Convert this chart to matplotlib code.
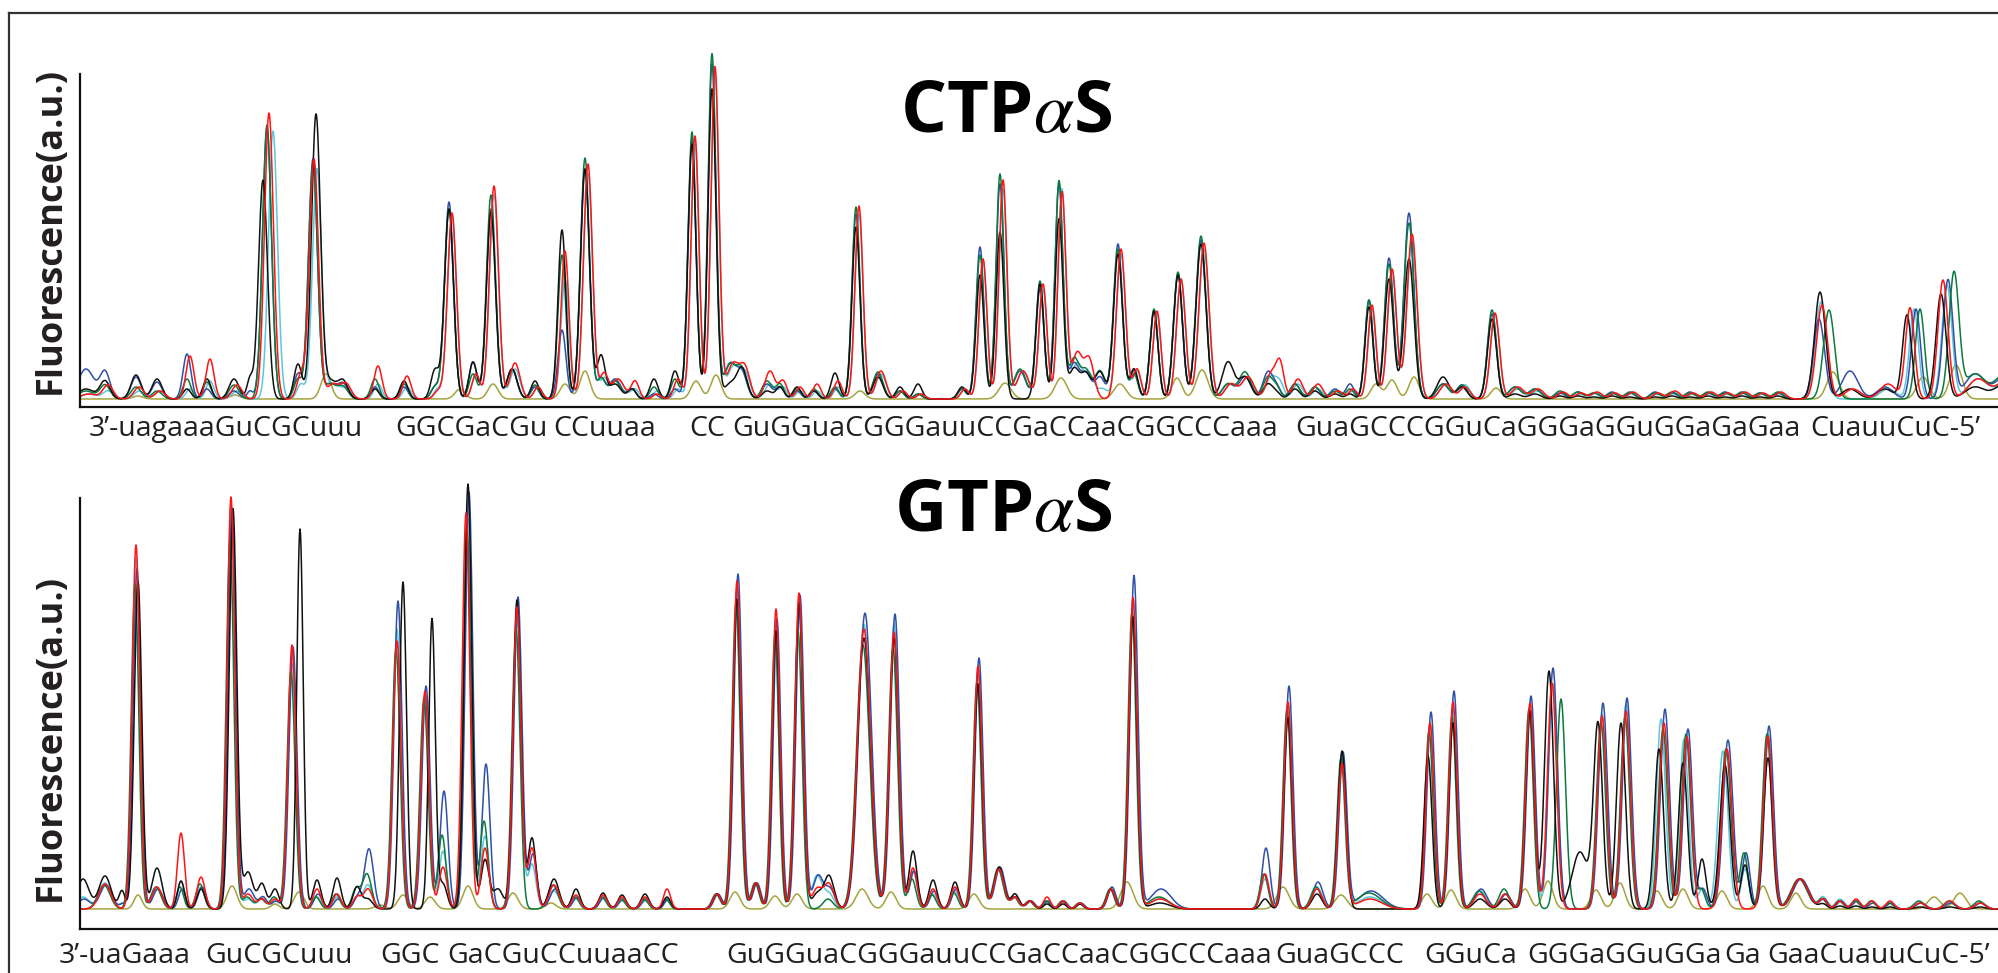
import numpy as np
import matplotlib
matplotlib.use("Agg")
import matplotlib.pyplot as plt
from matplotlib.lines import Line2D

# trace order: black, red, blue, cyan, green
trace_names = ["black", "red", "blue", "cyan", "green"]
trace_colors = {"black": "#111111", "red": "#ff1414", "blue": "#2f4fa8",
                "cyan": "#5cc6dc", "green": "#0b7a3e"}
olive_color = "#a4a33c"

# ---- CTPaS panel: peak centre, width, heights (black, red, blue, cyan, green)
ctp_peaks = [
    (86, 8, 10, 5, 30, 5, 8), (105, 5, 18, 14, 27, 8, 14), (136, 5, 24, 12, 22, 8, 12),
    (157, 5, 20, 8, 17, 8, 8), (187, 4, 10, 43, 45, 10, 20), (207, 4, 20, 40, 10, 18, 17),
    (234, 5, 20, 14, 8, 8, 14), (250, 3, 20, 0, 8, 0, 0),
    (267, 4.5, 219, 286, 270, 268, 274), (298, 4, 35, 25, 25, 15, 20),
    (314, 4.5, 284, 240, 240, 230, 235), (330, 6, 18, 15, 15, 15, 15),
    (343, 5, 18, 15, 15, 10, 12), (375, 4, 10, 33, 12, 15, 20), (404, 4, 18, 23, 12, 12, 15),
    (435, 4, 29, 8, 12, 10, 12), (449, 4.5, 190, 186, 197, 182, 190),
    (473, 4, 37, 25, 37, 25, 25), (491, 4.5, 187, 213, 190, 204, 204),
    (512, 5, 30, 36, 30, 30, 30), (535, 4, 18, 12, 12, 12, 14),
    (562, 4, 169, 148, 69, 120, 144), (585, 4.5, 230, 235, 230, 225, 241),
    (601, 4, 43, 25, 20, 20, 20), (615, 6, 15, 20, 20, 20, 18), (632, 4, 10, 18, 10, 10, 10),
    (654, 4, 20, 5, 5, 8, 12), (675, 4, 28, 20, 10, 10, 20),
    (692, 4, 255, 263, 260, 255, 267), (712, 4, 310, 332, 335, 325, 345),
    (730, 6, 15, 35, 35, 32, 34), (742, 5, 30, 30, 25, 25, 28), (767, 5, 8, 28, 15, 15, 18),
    (780, 4, 12, 18, 12, 12, 15), (797, 4, 12, 12, 8, 8, 10), (814, 4, 8, 15, 8, 8, 10),
    (835, 4, 26, 18, 10, 12, 12), (856, 4, 172, 193, 185, 185, 192),
    (878, 5, 22, 28, 25, 25, 27), (900, 4, 12, 8, 8, 8, 8), (918, 4, 15, 5, 5, 5, 5),
    (962, 4, 12, 10, 10, 10, 10), (980, 4, 124, 140, 152, 140, 144),
    (1000, 4, 167, 219, 215, 210, 225), (1020, 6, 0, 28, 28, 28, 30),
    (1040, 4, 115, 115, 110, 110, 118), (1059, 4, 180, 207, 215, 210, 218),
    (1074, 5, 30, 45, 35, 35, 40), (1086, 5, 25, 40, 25, 25, 28), (1100, 5, 27, 0, 22, 10, 28),
    (1118, 4.5, 145, 150, 155, 145, 150), (1134, 4, 30, 30, 28, 28, 25),
    (1154, 4, 88, 88, 88, 85, 90), (1178, 4.5, 124, 120, 125, 120, 127),
    (1201, 5, 155, 156, 159, 150, 163), (1228, 6, 37, 15, 15, 15, 15),
    (1245, 6, 22, 22, 22, 22, 27), (1268, 5, 15, 25, 27, 22, 22), (1277, 4, 5, 35, 10, 15, 10),
    (1295, 5, 10, 20, 15, 15, 15), (1315, 5, 8, 15, 12, 10, 12), (1335, 5, 5, 8, 10, 8, 8),
    (1350, 4, 5, 10, 15, 8, 10), (1369, 4, 92, 94, 99, 90, 99),
    (1389, 4.5, 120, 130, 141, 130, 135), (1409, 5, 140, 165, 186, 157, 176),
    (1443, 6, 22, 15, 15, 15, 15), (1462, 5, 12, 12, 14, 14, 14),
    (1492, 4.5, 80, 86, 85, 85, 89), (1515, 6, 5, 12, 12, 10, 12), (1535, 6, 5, 10, 10, 8, 10),
    (1560, 5, 3, 7, 6, 6, 8), (1578, 5, 3, 6, 7, 5, 7), (1594, 5, 2, 7, 6, 6, 6),
    (1612, 5, 3, 6, 7, 5, 6), (1630, 5, 2, 7, 6, 6, 7), (1655, 5, 2, 6, 7, 5, 6),
    (1672, 5, 3, 8, 6, 6, 7), (1690, 5, 2, 6, 7, 5, 6), (1708, 5, 3, 7, 6, 6, 7),
    (1725, 5, 2, 6, 7, 5, 6), (1742, 5, 3, 7, 6, 6, 7), (1760, 5, 2, 6, 6, 5, 6),
    (1778, 5, 3, 7, 6, 6, 7), (1820, 5.5, 107, 94, 80, 97, 89),
    (1850, 8, 10, 10, 28, 0, 0), (1885, 8, 10, 15, 12, 10, 0),
    (1907, 4.5, 84, 91, 90, 90, 90), (1941, 5, 105, 119, 119, 114, 125),
    (1975, 10, 12, 20, 25, 20, 25), (2005, 10, 15, 20, 22, 18, 25),
]
ctp_shift = (0, 3, 0, 3, 0)
ctp_shift_special = {267: (-4, 2, 0, 6, 0), 314: (2, 0, -1, 3, -1),
                     1820: (0, 2, -1, 1, 9), 1907: (0, 3, 9, 7, 13),
                     1941: (0, 2, 7, 6, 13)}
ctp_olive = [(138, 5, 3), (235, 5, 4), (326, 5, 25), (460, 5, 10), (493, 5, 15),
             (565, 5, 15), (585, 5, 28), (696, 5, 18), (716, 5, 24), (860, 5, 8),
             (1005, 6, 16), (1061, 6, 21), (1120, 6, 15), (1177, 5, 21), (1202, 6, 29),
             (1376, 5, 15), (1392, 5, 19), (1414, 5, 22), (1496, 5, 11), (1833, 6, 27),
             (1923, 6, 22), (1956, 6, 34)]

# ---- GTPaS panel
gtp_peaks = [
    (83, 6, 30, 0, 10, 12, 0), (105, 6, 33, 25, 24, 26, 24), (122, 3, 18, 0, 5, 5, 0),
    (136, 3.8, 328, 364, 340, 350, 324), (157, 5, 41, 22, 20, 20, 22),
    (181, 3.5, 28, 76, 20, 28, 22), (201, 4, 20, 32, 22, 22, 25),
    (231, 3.8, 400, 412, 400, 405, 369), (248, 5, 37, 15, 20, 10, 12),
    (262, 4, 25, 10, 12, 10, 10), (275, 4, 20, 10, 8, 8, 12),
    (292, 4, 0, 264, 262, 245, 238), (300, 3.2, 380, 0, 0, 0, 0),
    (317, 4, 29, 20, 15, 12, 12), (337, 4, 31, 15, 10, 12, 15), (357, 4, 22, 12, 12, 12, 20),
    (368, 4.5, 10, 20, 60, 24, 35), (397, 4, 0, 268, 308, 280, 260), (403, 3.5, 327, 0, 0, 0, 0),
    (425, 4, 0, 218, 223, 215, 211), (432, 3.3, 290, 0, 0, 0, 0),
    (443, 4, 25, 42, 118, 58, 74), (468, 3.8, 425, 396, 417, 390, 380),
    (485, 4, 49, 61, 145, 73, 88), (498, 5, 20, 0, 0, 0, 0),
    (517, 4, 309, 302, 312, 290, 280), (532, 4, 71, 61, 55, 45, 0),
    (554, 5, 30, 24, 20, 18, 24), (576, 4, 20, 14, 12, 10, 12), (603, 4, 16, 14, 12, 10, 12),
    (622, 4, 14, 12, 10, 8, 10), (645, 4, 15, 12, 10, 8, 10), (667, 3.5, 12, 20, 10, 8, 10),
    (717, 4, 15, 15, 15, 15, 15), (737, 4, 310, 328, 335, 320, 306),
    (756, 4, 26, 26, 26, 26, 26), (776, 3.8, 278, 300, 290, 290, 274),
    (799, 4, 306, 316, 314, 300, 278), (817, 5, 15, 20, 33, 33, 0), (829, 5, 33, 25, 20, 15, 10),
    (864, 6.5, 271, 280, 296, 285, 264), (894, 4.5, 271, 277, 295, 285, 260),
    (913, 4, 58, 41, 38, 38, 30), (933, 4, 29, 20, 18, 15, 14), (955, 4, 27, 22, 20, 18, 16),
    (978, 4, 225, 243, 251, 235, 227), (999, 5, 42, 40, 42, 40, 40),
    (1015, 4, 15, 12, 12, 12, 12), (1030, 4, 8, 8, 8, 8, 8), (1047, 3.5, 5, 12, 8, 8, 8),
    (1063, 3.5, 5, 8, 8, 8, 8), (1080, 3.5, 5, 6, 6, 6, 6), (1111, 4, 20, 20, 22, 20, 20),
    (1133, 4, 292, 311, 333, 310, 297), (1160, 10, 6, 10, 20, 10, 12),
    (1265, 4, 10, 35, 61, 30, 35), (1288, 4, 191, 207, 223, 205, 200),
    (1317, 5, 15, 20, 27, 22, 22), (1342, 4, 158, 145, 156, 150, 150),
    (1370, 12, 0, 10, 18, 12, 16), (1430, 4, 153, 186, 197, 185, 178),
    (1453, 4, 186, 207, 218, 200, 193), (1480, 6, 10, 15, 20, 18, 18),
    (1505, 5, 10, 15, 15, 15, 20), (1530, 4.2, 198, 206, 213, 195, 200),
    (1552, 4.5, 238, 226, 241, 225, 210), (1580, 8, 57, 0, 0, 0, 0),
    (1602, 4.5, 183, 193, 206, 195, 186), (1626, 4.5, 186, 198, 211, 205, 192),
    (1664, 4.5, 160, 186, 200, 190, 180), (1687, 4.5, 146, 172, 180, 170, 175),
    (1702, 4, 50, 0, 20, 20, 20), (1727, 5, 144, 160, 169, 158, 160),
    (1745, 4, 44, 0, 56, 40, 56), (1768, 4.5, 151, 173, 183, 175, 175),
    (1800, 8, 30, 30, 30, 30, 30), (1823, 4, 5, 10, 10, 12, 10), (1840, 4, 3, 8, 8, 10, 8),
    (1856, 4, 3, 10, 8, 8, 8), (1872, 4, 2, 8, 6, 8, 8), (1890, 4, 2, 8, 6, 6, 6),
    (1920, 5, 2, 6, 6, 6, 8), (1950, 5, 2, 8, 6, 6, 8), (1980, 5, 2, 6, 6, 6, 8),
]
gtp_shift = (0, 0, 1, 0, -1)
gtp_shift_special = {136: (2, 0, 1, 0, -1), 231: (2, 0, 1, 0, -1), 468: (0, -2, 1, 0, -1),
                     1430: (-2, 0, 1, 0, -1), 1552: (-3, 0, 1, 1, 9),
                     1602: (-4, 0, 1, 0, -1), 1626: (-5, 0, 1, 0, -1),
                     1664: (-5, 0, 1, -3, -1), 1687: (-4, 0, 1, -3, -1),
                     1727: (-2, 0, 1, -4, -1)}
gtp_olive = [(138, 4, 14), (232, 5, 23), (275, 4, 5), (299, 5, 17), (380, 5, 4),
             (403, 5, 14), (430, 5, 12), (468, 5, 23), (513, 5, 16), (551, 5, 6),
             (735, 5, 17), (775, 5, 13), (797, 5, 15), (862, 6, 20), (891, 5, 17),
             (974, 5, 15), (1127, 6, 27), (1283, 6, 22), (1341, 6, 14), (1427, 5, 15),
             (1451, 5, 19), (1525, 5, 20), (1548, 5, 28), (1596, 5, 19), (1620, 5, 26),
             (1657, 5, 18), (1683, 5, 20), (1722, 5, 18), (1763, 5, 23), (1796, 5, 16),
             (1934, 6, 12), (1960, 6, 16)]

top_labels = [("3’-uagaaaGuCGCuuu", 89), ("GGCGaCGu", 395), ("CCuuaa", 553), ("CC", 689),
              ("GuGGuaCGGGauuCCGaCCaaCGGCCCaaa", 732),
              ("GuaGCCCGGuCaGGGaGGuGGaGaGaa", 1295), ("CuauuCuC-5’", 1810)]
bottom_labels = [("3’-uaGaaa", 59), ("GuCGCuuu", 205), ("GGC", 380), ("GaCGuCCuuaaCC", 447),
                 ("GuGGuaCGGGauuCCGaCCaaCGGCCCaaa", 726), ("GuaGCCC", 1275),
                 ("GGuCa", 1424), ("GGGaGGuGGa", 1527), ("Ga", 1724),
                 ("GaaCuauuCuC-5’", 1767)]

W, H = 1999, 973
xs = np.arange(80, 2000, 0.5)


def gauss_sum(peaks, col, base, shift, special):
    y = np.full_like(xs, base, dtype=float)
    for row in peaks:
        x0, w, h = row[0], row[1], row[2 + col]
        dx = special.get(x0, shift)[col]
        y += h * np.exp(-0.5 * ((xs - x0 - dx) / w) ** 2)
    return y


def olive_line(peaks, base):
    y = np.full_like(xs, base, dtype=float)
    for x0, w, h in peaks:
        y += h * np.exp(-0.5 * ((xs - x0) / w) ** 2)
    return y


def draw_panel(ax, peaks, shift, special, olive, base, ytop, spine_top):
    ax.plot(xs, olive_line(olive, base), color=olive_color, lw=1.1)
    for name in ["cyan", "blue", "green", "black", "red"]:
        i = trace_names.index(name)
        ax.plot(xs, gauss_sum(peaks, i, base, shift, special), color=trace_colors[name], lw=1.1)
    ax.set_xlim(80, 1999)
    ax.set_ylim(0, ytop)
    for s in ["top", "right"]:
        ax.spines[s].set_visible(False)
    ax.spines["left"].set_bounds(0, spine_top)
    for s in ["left", "bottom"]:
        ax.spines[s].set_linewidth(1.6)
        ax.spines[s].set_color("#111111")
    ax.set_xticks([])
    ax.set_yticks([])
    ax.patch.set_alpha(0)


fig = plt.figure(figsize=(W / 100, H / 100), dpi=100)
ax1 = fig.add_axes([80 / W, (H - 407) / H, 1 - 80 / W, 367 / H])
ax2 = fig.add_axes([80 / W, (H - 929) / H, 1 - 80 / W, 459 / H])
draw_panel(ax1, ctp_peaks, ctp_shift, ctp_shift_special, ctp_olive, 8, 367, 333)
draw_panel(ax2, gtp_peaks, gtp_shift, gtp_shift_special, gtp_olive, 20, 459, 431)

# outer frame (top and left edges visible)
fig.add_artist(Line2D([9 / W, 1], [1 - 13 / H] * 2, transform=fig.transFigure, color="#333333", lw=1.6))
fig.add_artist(Line2D([9 / W] * 2, [0, 1 - 13 / H], transform=fig.transFigure, color="#333333", lw=1.6))

txt = "#231f20"
for label, x in top_labels:
    fig.text(x / W, 1 - 436 / H, label, ha="left", va="baseline", fontsize=20.5,
             family="Open Sans", color=txt)
for label, x in bottom_labels:
    fig.text(x / W, 1 - 963 / H, label, ha="left", va="baseline", fontsize=20.5,
             family="Open Sans", color=txt)

for title, x, y in [("CTP$\\alpha$S", 1006, 132), ("GTP$\\alpha$S", 1003, 531)]:
    fig.text(x / W, 1 - y / H, title, ha="center", va="baseline", fontsize=52,
             family="Open Sans", weight="bold", math_fontfamily="stix", color="#000000")

for y in [230, 737]:
    fig.text(51 / W, 1 - y / H, "Fluorescence(a.u.)", rotation=90, ha="center", va="center",
             fontsize=26, family="Open Sans", weight="bold", color=txt)

fig.savefig("out.png", dpi=100)
